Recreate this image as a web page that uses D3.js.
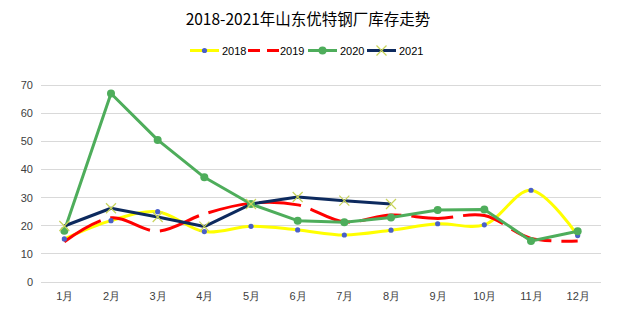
<!DOCTYPE html>
<html><head><meta charset="utf-8">
<script src="https://cdn.jsdelivr.net/npm/d3@7/dist/d3.min.js"></script>
<style>
body{margin:0;background:#fff;}
svg{display:block;font-family:"Noto Sans CJK SC","Noto Sans",sans-serif;}
</style></head>
<body><svg id="chart" width="617" height="323"></svg>
<script>
const title = "2018-2021年山东优特钢厂库存走势";
const months = ["1月","2月","3月","4月","5月","6月","7月","8月","9月","10月","11月","12月"];
const yTicks = [0,10,20,30,40,50,60,70];
const seriesNames = ["2018","2019","2020","2021"];
const v2018 = [15.3,21.8,25.0,17.9,19.8,18.5,16.7,18.4,20.7,20.3,32.6,16.5];
const v2019 = [14.3,22.8,18.1,24.2,28.0,27.4,21.4,23.8,22.6,23.6,15.5,14.6];
const v2020 = [18.2,67.0,50.5,37.2,27.7,21.8,21.2,22.9,25.6,25.8,14.6,18.0];
const v2021 = [19.9,26.2,23.1,19.7,27.7,30.2,28.9,27.7];

const svg = d3.select("#chart");
const W = 617, H = 323;
const m = {left:41, right:16, top:85, bottom:41};
const x = d3.scalePoint().domain(months).range([m.left, W - m.right]).padding(0.5);
const y = d3.scaleLinear().domain([0,70]).range([H - m.bottom, m.top]);

svg.append("text").attr("x", 308).attr("y", 25).attr("text-anchor","middle")
  .attr("font-size", 15.5).attr("fill","#000").text(title);

// gridlines
svg.append("g").selectAll("line").data(yTicks).join("line")
  .attr("x1", m.left).attr("x2", W - m.right)
  .attr("y1", d => y(d)).attr("y2", d => y(d))
  .attr("stroke", "#d9d9d9").attr("stroke-width", 1).attr("shape-rendering","crispEdges");

const yAxis = d3.axisLeft(y).tickValues(yTicks).tickSize(0).tickPadding(8);
const gy = svg.append("g").attr("transform", `translate(${m.left},0)`).call(yAxis);
gy.select(".domain").remove();
gy.selectAll("text").attr("font-size", 11).attr("fill", "#404040").attr("font-family","Liberation Sans, sans-serif");

const xAxis = d3.axisBottom(x).tickSize(0).tickPadding(10);
const gx = svg.append("g").attr("transform", `translate(0,${H - m.bottom})`).call(xAxis);
gx.select(".domain").remove();
gx.selectAll("text").attr("font-size", 11).attr("fill", "#404040");

const series = [
  {name:"2018", vals:v2018, color:"#ffff00", width:3, dash:null, curve:d3.curveCatmullRom, marker:"dot"},
  {name:"2019", vals:v2019, color:"#ff0000", width:3, dash:"42,10", curve:d3.curveCatmullRom, marker:null},
  {name:"2020", vals:v2020, color:"#4ead5b", width:3, dash:null, curve:d3.curveLinear, marker:"circle"},
  {name:"2021", vals:v2021, color:"#0d2a5e", width:3, dash:null, curve:d3.curveLinear, marker:"x"}
];

series.forEach(s => {
  const line = d3.line().x((d,i) => x(months[i])).y(d => y(d)).curve(s.curve);
  svg.append("path").datum(s.vals).attr("d", line)
    .attr("fill","none").attr("stroke", s.color).attr("stroke-width", s.width)
    .attr("stroke-dasharray", s.dash).attr("stroke-linejoin","round");
});

function drawMarker(g, type, cx, cy) {
  if (type === "dot") {
    g.append("circle").attr("cx",cx).attr("cy",cy).attr("r",2.6).attr("fill","#4a60c8");
  } else if (type === "circle") {
    g.append("circle").attr("cx",cx).attr("cy",cy).attr("r",4).attr("fill","#4ead5b");
  } else if (type === "x") {
    const r = 5;
    g.append("path").attr("d",`M${cx-r},${cy-r}L${cx+r},${cy+r}M${cx-r},${cy+r}L${cx+r},${cy-r}`)
      .attr("stroke","#c8d45a").attr("stroke-width",1.2).attr("fill","none");
  }
}
series.forEach(s => {
  if (!s.marker) return;
  const g = svg.append("g");
  s.vals.forEach((v,i) => drawMarker(g, s.marker, x(months[i]), y(v)));
});

// legend
const legY = 50.5;
const legX = [190, 248, 308, 367];
const lg = svg.append("g");
series.forEach((s,k) => {
  const x0 = legX[k];
  if (s.name === "2019") {
    lg.append("line").attr("x1",x0).attr("x2",x0+12).attr("y1",legY).attr("y2",legY)
      .attr("stroke",s.color).attr("stroke-width",3);
    lg.append("line").attr("x1",x0+19).attr("x2",x0+31).attr("y1",legY).attr("y2",legY)
      .attr("stroke",s.color).attr("stroke-width",3);
  } else {
    lg.append("line").attr("x1",x0).attr("x2",x0+29).attr("y1",legY).attr("y2",legY)
      .attr("stroke",s.color).attr("stroke-width",3);
  }
  drawMarker(lg, s.marker, x0+14.5, legY);
  lg.append("text").attr("x", x0+32).attr("y", legY+4).attr("font-size",11)
    .attr("fill","#000").attr("font-family","Liberation Sans, sans-serif").text(s.name);
});
</script>
</body></html>
